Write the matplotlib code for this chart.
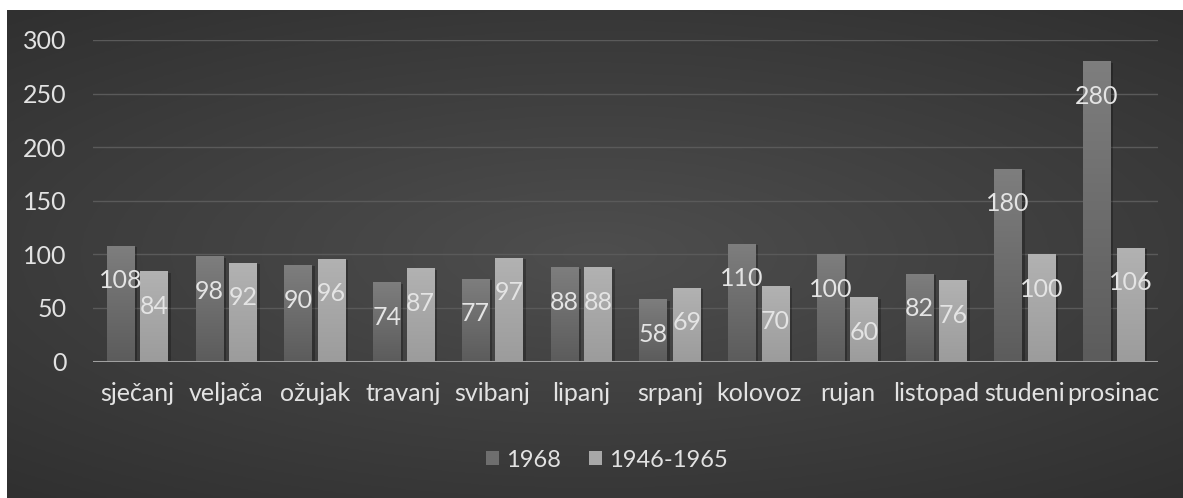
import numpy as np
import matplotlib
matplotlib.use('Agg')
import matplotlib.pyplot as plt
import matplotlib.patheffects as pe
from matplotlib.colors import LinearSegmentedColormap
from matplotlib.patches import Patch

months = ['sječanj', 'veljača', 'ožujak', 'travanj', 'svibanj', 'lipanj',
          'srpanj', 'kolovoz', 'rujan', 'listopad', 'studeni', 'prosinac']
values_1968 = [108, 98, 90, 74, 77, 88, 58, 110, 100, 82, 180, 280]
values_avg = [84, 92, 96, 87, 97, 88, 69, 70, 60, 76, 100, 106]
series_names = ['1968', '1946-1965']
y_ticks = [0, 50, 100, 150, 200, 250, 300]

plt.rcParams['font.family'] = ['Lato', 'DejaVu Sans']
FS = 18

W, H = 1183, 498
fig = plt.figure(figsize=(W / 100, H / 100), dpi=100, facecolor='white')

# dark radial background, with a thin white margin left/top
bg = fig.add_axes([7 / W, 0, 1 - 7 / W, 1 - 10 / H], zorder=-10)
yy, xx = np.mgrid[-1:1:300j, -1:1:700j]
r = np.sqrt((xx * 0.85) ** 2 + (yy * 1.0) ** 2)
bg_cmap = LinearSegmentedColormap.from_list('bg', ['#4e4e4e', '#3e3e3e', '#2e2e2e'])
bg.imshow(r, cmap=bg_cmap, aspect='auto', vmin=0, vmax=1.4, interpolation='bicubic')
bg.axis('off')

ax = fig.add_axes([93 / W, 136.5 / H, (1158 - 93) / W, (458 - 136.5) / H])
ax.patch.set_alpha(0)

x = np.arange(len(months))
bw = 0.31
off = 0.19
shadow = [pe.SimplePatchShadow(offset=(2, -1), shadow_rgbFace='black', alpha=0.25), pe.Normal()]
bars_a = ax.bar(x - off, values_1968, bw, color='#6e6e6e', zorder=3, path_effects=shadow)
bars_b = ax.bar(x + off, values_avg, bw, color='#a8a8a8', zorder=3, path_effects=shadow)

# vertical gradient on each bar
grad = np.linspace(1, 0, 100).reshape(-1, 1)
cm_a = LinearSegmentedColormap.from_list('a', ['#5c5c5c', '#7e7e7e'])
cm_b = LinearSegmentedColormap.from_list('b', ['#9c9c9c', '#b2b2b2'])
for bars, cm in ((bars_a, cm_a), (bars_b, cm_b)):
    for b in bars:
        im = ax.imshow(grad, cmap=cm, aspect='auto', zorder=4,
                       extent=[b.get_x(), b.get_x() + b.get_width(), 0, b.get_height()])
        im.set_clip_path(b)

for bars, vals in ((bars_a, values_1968), (bars_b, values_avg)):
    for b, v in zip(bars, vals):
        ax.annotate(str(v), (b.get_x() + b.get_width() / 2, v), xytext=(0, -35),
                    textcoords='offset pixels', ha='center', va='center',
                    fontsize=FS, color='#e4e4e4', zorder=6)

ax.set_xlim(-0.5, len(months) - 0.5)
ax.set_ylim(0, 300)
ax.set_yticks(y_ticks)
ax.set_xticks(x)
ax.set_xticklabels(months)
ax.grid(axis='y', color='#5a5a5a', linewidth=1, zorder=0)
ax.axhline(0, color='#a0a0a0', linewidth=2.2, zorder=5)
for s in ax.spines.values():
    s.set_visible(False)
ax.tick_params(axis='both', length=0, labelsize=FS, colors='#e2e2e2')
ax.tick_params(axis='y', pad=19)
ax.tick_params(axis='x', pad=15)

handles = [Patch(facecolor='#6e6e6e', label=series_names[0]),
           Patch(facecolor='#a8a8a8', label=series_names[1])]
fig.legend(handles=handles, loc='center', bbox_to_anchor=(0.513, 0.076), ncol=2,
           frameon=False, fontsize=17, labelcolor='#e2e2e2',
           handlelength=0.55, handleheight=0.55, handletextpad=0.3, columnspacing=1.2)

fig.savefig('out.png', dpi=100, facecolor='white')
